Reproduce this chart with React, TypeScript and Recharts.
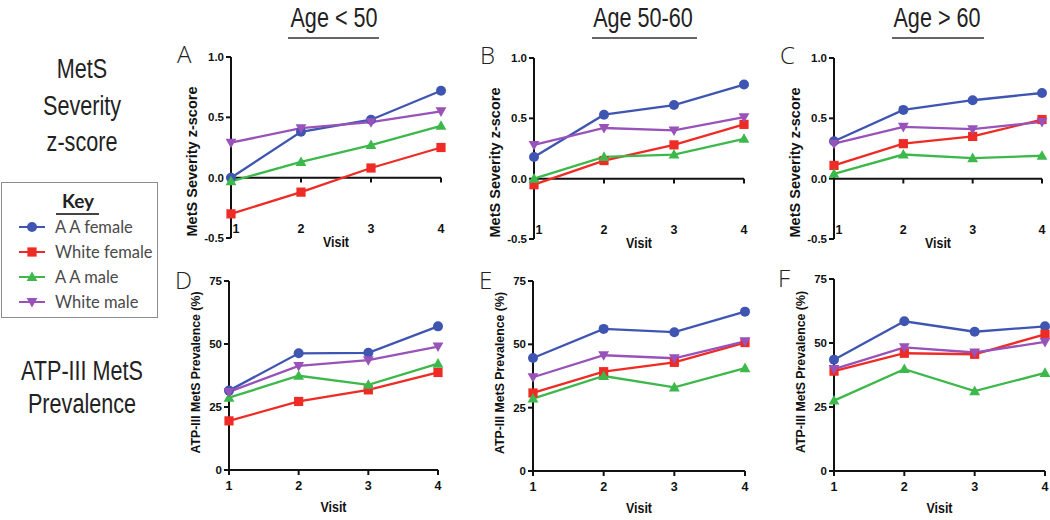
import React from 'react'
import { LineChart, Line, XAxis, YAxis, ReferenceLine, Label } from 'recharts'

const VISITS = [1, 2, 3, 4]
const GROUPS = ['A A female', 'White female', 'A A male', 'White male']
const COLORS = ['#3f55b2', '#ee2b24', '#3db84b', '#9852ba']
const SHAPES = ['circle', 'square', 'triangle', 'triangleDown']

// MetS severity z-score, rows follow GROUPS
const SEV_LT50 = [
  [0.0, 0.38, 0.48, 0.72],
  [-0.3, -0.12, 0.08, 0.25],
  [-0.03, 0.13, 0.27, 0.43],
  [0.29, 0.41, 0.46, 0.55],
]
const SEV_50_60 = [
  [0.18, 0.53, 0.61, 0.78],
  [-0.05, 0.15, 0.28, 0.45],
  [0.0, 0.18, 0.2, 0.33],
  [0.28, 0.42, 0.4, 0.51],
]
const SEV_GT60 = [
  [0.31, 0.57, 0.65, 0.71],
  [0.11, 0.29, 0.35, 0.49],
  [0.04, 0.2, 0.17, 0.19],
  [0.29, 0.43, 0.41, 0.47],
]
// ATP-III MetS prevalence (%)
const PREV_LT50 = [
  [31.5, 46.3, 46.5, 57],
  [19.5, 27.2, 31.8, 38.7],
  [28.7, 37.4, 33.8, 42.2],
  [31, 41.3, 43.6, 49],
]
const PREV_50_60 = [
  [44.6, 56.1, 54.8, 62.9],
  [30.8, 39.2, 42.9, 50.7],
  [28.6, 37.5, 33, 40.6],
  [37, 45.7, 44.5, 51.2],
]
const PREV_GT60 = [
  [43.5, 58.5, 54.4, 56.5],
  [39, 46, 45.6, 53.4],
  [27.5, 39.8, 31.2, 38.3],
  [39.8, 48.3, 46.3, 50.4],
]

const SEV_TICKS = [-0.5, 0, 0.5, 1.0]
const PREV_TICKS = [0, 25, 50, 75]
const AGE_HEADERS = ['Age < 50', 'Age 50-60', 'Age > 60']

const FONT = "'Liberation Sans', Arial, sans-serif"
const ML = 52
const MT = 16
const MR = 12
const XH = 50

function toRows(rows: number[][]) {
  return VISITS.map((v, i) => {
    const o: Record<string, number> = { visit: v }
    rows.forEach((r, k) => { o['s' + k] = r[i] })
    return o
  })
}

function Marker({ cx, cy, shape, color }: { cx?: number; cy?: number; shape: string; color: string }) {
  if (cx == null || cy == null) return null
  if (shape === 'circle') return <circle cx={cx} cy={cy} r={5} fill={color} />
  if (shape === 'square') return <rect x={cx - 4.6} y={cy - 4.6} width={9.2} height={9.2} fill={color} />
  if (shape === 'triangle')
    return <polygon points={`${cx},${cy - 5.6} ${cx + 5.4},${cy + 4} ${cx - 5.4},${cy + 4}`} fill={color} />
  return <polygon points={`${cx},${cy + 5.6} ${cx + 5.4},${cy - 4} ${cx - 5.4},${cy - 4}`} fill={color} />
}

function RotLabel({ viewBox, value, dx, dy, len, size }: any) {
  if (!viewBox) return null
  const x = viewBox.x + viewBox.width + dx
  const y = viewBox.y + viewBox.height / 2 + dy
  return (
    <text x={x} y={y} transform={`rotate(-90 ${x} ${y})`} textAnchor="middle" dominantBaseline="middle"
      textLength={len} lengthAdjust="spacingAndGlyphs"
      fontFamily={FONT} fontWeight={700} fontSize={size} fill="#111">{value}</text>
  )
}

function VisitLabel({ viewBox, dy }: any) {
  if (!viewBox) return null
  return (
    <text x={viewBox.x + viewBox.width / 2} y={viewBox.y + dy} textAnchor="middle" dominantBaseline="middle"
      textLength={26} lengthAdjust="spacingAndGlyphs"
      fontFamily={FONT} fontWeight={700} fontSize={15} fill="#111">Visit</text>
  )
}

function TopTick({ x, y, payload }: any) {
  const v = payload.value
  return (
    <text x={x + (v === 1 ? 5 : 0)} y={y - 8} textAnchor="middle" dominantBaseline="middle"
      fontFamily={FONT} fontWeight={700} fontSize={12.5} fill="#111">{v}</text>
  )
}

interface PanelProps {
  px: number; py: number; pw: number; ph: number
  rows: number[][]
  letter: string
  severity: boolean
}

function Panel({ px, py, pw, ph, rows, letter, severity }: PanelProps) {
  const data = toRows(rows)
  const w = ML + pw + MR
  const h = MT + ph + XH
  return (
    <div style={{ position: 'absolute', left: px - ML, top: py - MT, width: w, height: h }}>
      <LineChart width={w} height={h} data={data} margin={{ top: MT, right: MR, bottom: 0, left: 0 }}>
        <XAxis
          dataKey="visit" type="number" domain={[1, 4]} ticks={VISITS}
          height={XH}
          axisLine={severity ? false : { stroke: '#111', strokeWidth: 2 }}
          tickLine={severity ? false : { stroke: '#111', strokeWidth: 2 }}
          tickSize={severity ? 0 : 5}
          tickMargin={severity ? 0 : 6}
          tick={severity ? <TopTick /> : { fontFamily: FONT, fontWeight: 700, fontSize: 12.5, fill: '#111' }}
        >
          <Label content={<VisitLabel dy={severity ? 5 : 38} />} />
        </XAxis>
        <YAxis
          type="number" width={ML}
          domain={severity ? [-0.5, 1] : [0, 75]}
          ticks={severity ? SEV_TICKS : PREV_TICKS}
          tickFormatter={(v: number) => (severity ? v.toFixed(1) : String(v))}
          axisLine={{ stroke: '#111', strokeWidth: 2 }}
          tickLine={{ stroke: '#111', strokeWidth: 2 }}
          tickSize={5}
          tickMargin={2}
          tick={{ fontFamily: FONT, fontWeight: 700, fontSize: 11.5, fill: '#111' }}
        >
          <Label content={<RotLabel
            value={severity ? 'MetS Severity z-score' : 'ATP-III MetS Prevalence (%)'}
            len={severity ? 150 : 162}
            size={severity ? 14 : 13}
            dx={severity ? -38 : -32} dy={severity ? 14 : -3} />} />
        </YAxis>
        {severity && <ReferenceLine y={0} stroke="#111" strokeWidth={2} />}
        {severity && VISITS.slice(1).map(v => (
          <ReferenceLine key={v} segment={[{ x: v, y: 0 }, { x: v, y: -0.04 }]} stroke="#111" strokeWidth={2} />
        ))}
        {GROUPS.map((g, k) => (
          <Line
            key={g}
            dataKey={'s' + k}
            name={g}
            stroke={COLORS[k]}
            strokeWidth={2.3}
            isAnimationActive={false}
            dot={(p: any) => <Marker key={p.index} cx={p.cx} cy={p.cy} shape={SHAPES[k]} color={COLORS[k]} />}
            activeDot={false}
          />
        ))}
      </LineChart>
      <div style={{
        position: 'absolute', left: letter === 'F' ? -4 : -2, top: (severity ? -12 : -10) + MT - 8,
        fontFamily: "'Open Sans', Lato, sans-serif", fontWeight: 300, fontSize: 24, color: '#222',
      }}>{letter}</div>
    </div>
  )
}

function KeyBox() {
  return (
    <div style={{
      position: 'absolute', left: 1, top: 182, width: 155, height: 134,
      border: '1px solid #8c8c8c', background: '#fff', fontFamily: "Lato, 'Open Sans', sans-serif", color: '#4a4a4a',
    }}>
      <div style={{ position: 'absolute', left: 50, top: 6, width: 52, textAlign: 'center', fontSize: 19, fontWeight: 700, color: '#222' }}>Key</div>
      <div style={{ position: 'absolute', left: 54, top: 30, width: 43, height: 1.5, background: '#444' }} />
      {GROUPS.map((g, k) => (
        <div key={g} style={{ position: 'absolute', left: 15, top: 33 + k * 25, height: 22, display: 'flex', alignItems: 'center', whiteSpace: 'nowrap' }}>
          <svg width={30} height={14}>
            <line x1={2} y1={7} x2={28} y2={7} stroke={COLORS[k]} strokeWidth={2} />
            <Marker cx={15} cy={7} shape={SHAPES[k]} color={COLORS[k]} />
          </svg>
          <span style={{ marginLeft: 8, fontSize: 16.5 }}>{g}</span>
        </div>
      ))}
    </div>
  )
}

function Header({ cx, x0, x1, text }: { cx: number; x0: number; x1: number; text: string }) {
  return (
    <>
      <div style={{
        position: 'absolute', left: cx - 100, top: 2, width: 200, textAlign: 'center', whiteSpace: 'nowrap',
        fontFamily: FONT, fontSize: 27, color: '#222', lineHeight: '32px',
        transform: 'scaleX(0.8)',
      }}>{text}</div>
      <div style={{ position: 'absolute', left: x0, top: 37, width: x1 - x0, height: 1.5, background: '#666' }} />
    </>
  )
}

const sideStyle: React.CSSProperties = {
  position: 'absolute', left: 0, width: 164, textAlign: 'center', fontFamily: FONT, whiteSpace: 'nowrap',
  fontSize: 27, color: '#222', lineHeight: '36.5px', transform: 'scaleX(0.8)',
}

export default function App() {
  return (
    <div style={{ position: 'absolute', left: 0, top: 0, width: 1050, height: 520, background: '#fff', overflow: 'hidden' }}>
      <Header cx={334} x0={288} x1={379} text={AGE_HEADERS[0]} />
      <Header cx={643} x0={592} x1={697} text={AGE_HEADERS[1]} />
      <Header cx={937} x0={892} x1={984} text={AGE_HEADERS[2]} />

      <div style={{ ...sideStyle, top: 51 }}>MetS<br />Severity<br />z-score</div>
      <div style={{ ...sideStyle, top: 355, lineHeight: '33px' }}>ATP-III MetS<br />Prevalence</div>

      <KeyBox />

      <Panel px={231} py={57} pw={210} ph={181} rows={SEV_LT50} letter="A" severity />
      <Panel px={534} py={58} pw={210} ph={181} rows={SEV_50_60} letter="B" severity />
      <Panel px={834} py={58} pw={208} ph={181} rows={SEV_GT60} letter="C" severity />
      <Panel px={229} py={281} pw={209} ph={189} rows={PREV_LT50} letter="D" severity={false} />
      <Panel px={533} py={281} pw={212} ph={190} rows={PREV_50_60} letter="E" severity={false} />
      <Panel px={834} py={279} pw={211} ph={192} rows={PREV_GT60} letter="F" severity={false} />
    </div>
  )
}
